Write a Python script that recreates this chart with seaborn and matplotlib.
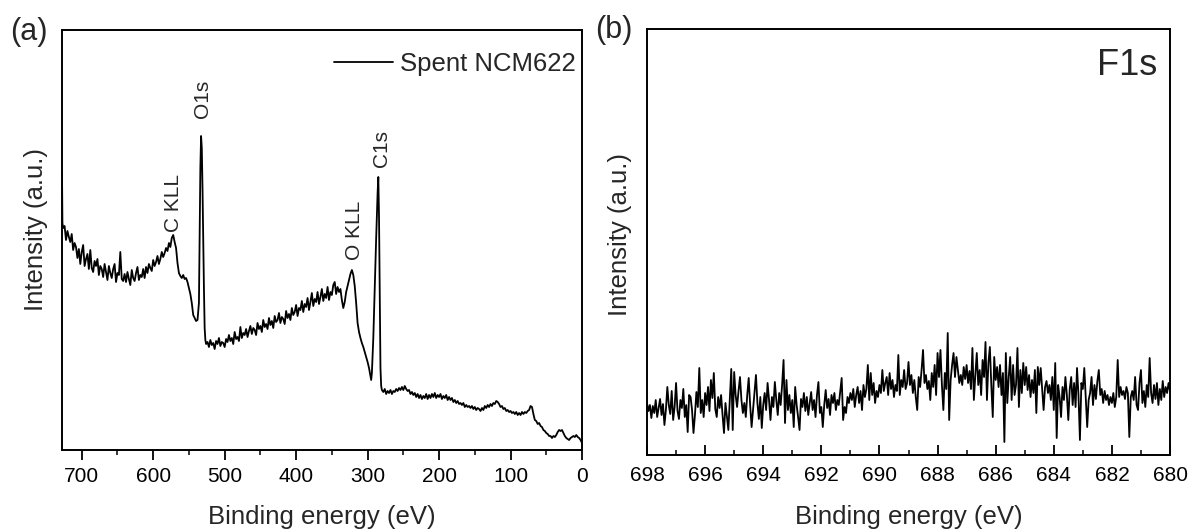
import numpy as np
import pandas as pd
import matplotlib
matplotlib.use("Agg")
import matplotlib.pyplot as plt
from matplotlib.ticker import MultipleLocator
import seaborn as sns

# ---------------- data ----------------
survey_ev = [727.6, 727, 726, 724, 722, 720, 718, 716, 714, 712, 710, 708, 706, 704, 702, 700,
             698, 696, 694, 692, 690, 688, 686, 684, 682, 680, 678, 676, 674, 672, 670, 668,
             666, 664, 662, 660, 658, 656, 654, 652, 650, 648, 646, 644, 642, 640, 638, 636,
             634, 632, 630, 628, 626, 624, 622, 620, 618, 616, 614, 612, 610, 608, 606, 604,
             602, 600, 598, 596, 594, 592, 590, 588, 586, 584, 582, 580, 578, 576, 574, 572,
             570, 568, 566, 564, 562, 560, 558, 556, 554, 552, 550, 548, 546, 544, 542, 540,
             538, 536, 535, 534, 533, 532, 531, 530, 529, 528, 527, 526,
             524, 522, 520, 518, 516, 514, 512, 510, 508, 506, 504, 502, 500, 498, 496, 494,
             492, 490, 488, 486, 484, 482, 480, 478, 476, 474, 472, 470, 468, 466, 464, 462,
             460, 458, 456, 454, 452, 450, 448, 446, 444, 442, 440, 438, 436, 434, 432, 430,
             428, 426, 424, 422, 420, 418, 416, 414, 412, 410, 408, 406, 404, 402, 400, 398,
             396, 394, 392, 390, 388, 386, 384, 382, 380, 378, 376, 374, 372, 370, 368, 366,
             364, 362, 360, 358, 356, 354, 352, 350, 348, 346, 344, 342, 340, 338, 336, 334,
             332, 330, 328, 326, 324, 322, 320, 318, 316, 314, 312, 310, 308, 306, 304, 302,
             300, 298, 296, 295, 294, 292, 290, 288, 286, 285, 284, 283, 282, 281, 280,
             278, 276, 274, 272, 270, 268, 266, 264, 262, 260, 258, 256, 254, 252, 250, 248,
             246, 244, 242, 240, 238, 236, 234, 232, 230, 228, 226, 224, 222, 220, 218, 216,
             214, 212, 210, 208, 206, 204, 202, 200, 198, 196, 194, 192, 190, 188, 186, 184,
             182, 180, 178, 176, 174, 172, 170, 168, 166, 164, 162, 160, 158, 156, 154, 152,
             150, 148, 146, 144, 142, 140, 138, 136, 134, 132, 130, 128, 126, 124, 122, 120,
             118, 116, 114, 112, 110, 108, 106, 104, 102, 100, 98, 96, 94, 92, 90, 88,
             86, 84, 82, 80, 78, 76, 74, 72, 70, 68, 66, 64, 62, 60, 58, 56,
             54, 52, 50, 48, 46, 44, 42, 40, 38, 36, 34, 32, 30, 28, 26, 24,
             22, 20, 18, 16, 14, 12, 10, 8, 6, 4, 2, 0]
survey_int = [305, 255, 250, 252, 238, 247, 241, 236, 244, 228, 235, 231, 220, 229, 214, 226,
              233, 212, 219, 224, 209, 228, 210, 206, 217, 212, 219, 203, 212, 209, 201, 214,
              206, 198, 212, 205, 200, 209, 214, 196, 205, 203, 226, 199, 197, 204, 196, 206,
              199, 193, 208, 200, 197, 205, 211, 198, 203, 201, 209, 200, 211, 205, 214, 210,
              207, 218, 212, 216, 222, 214, 219, 226, 221, 225, 230, 227, 235, 231, 240, 243,
              236, 230, 215, 205, 202, 200, 203, 199, 200, 196, 190, 184, 175, 163, 160, 157,
              158, 175, 240, 310, 342, 330, 290, 240, 190, 150, 138, 134,
              136, 131, 138, 133, 135, 129, 137, 134, 140, 132, 136, 135, 131, 139, 136, 143,
              137, 140, 134, 146, 139, 141, 137, 151, 140, 145, 143, 149, 141, 147, 152, 144,
              150, 148, 143, 155, 149, 152, 146, 158, 151, 154, 149, 160, 153, 157, 150, 162,
              156, 158, 165, 155, 161, 159, 154, 167, 160, 164, 158, 170, 163, 166, 173, 162,
              170, 168, 177, 166, 174, 171, 180, 168, 176, 185, 172, 179, 176, 186, 174, 181,
              189, 177, 184, 180, 191, 178, 186, 183, 193, 196, 184, 191, 186, 189, 178, 170,
              176, 186, 192, 198, 204, 208, 203, 192, 175, 155, 146, 140, 135, 131, 126, 121,
              116, 110, 102, 98, 105, 140, 190, 240, 285, 301, 260, 180, 110, 92, 88,
              86, 89, 84, 87, 85, 88, 84, 87, 86, 89, 87, 90, 88, 91, 88, 92,
              89, 87, 88, 84, 86, 83, 85, 81, 84, 80, 83, 79, 82, 80, 84, 79,
              83, 80, 84, 81, 85, 80, 83, 81, 84, 79, 82, 80, 83, 78, 81, 78,
              80, 76, 78, 75, 77, 74, 75, 73, 75, 71, 73, 71, 72, 70, 72, 69,
              71, 68, 70, 69, 67, 70, 68, 72, 70, 73, 71, 74, 72, 75, 74, 77,
              76, 74, 71, 72, 69, 70, 67, 68, 66, 67, 65, 66, 64, 66, 63, 65,
              63, 66, 64, 66, 65, 67, 68, 72, 71, 64, 58, 57, 54, 55, 52, 51,
              48, 47, 45, 44, 42, 42, 40, 42, 41, 43, 46, 48, 47, 48, 45, 42,
              40, 39, 38, 40, 41, 42, 41, 43, 41, 40, 38, 35]

survey_labels = ["C KLL", "O1s", "O KLL", "C1s"]
survey_label_ev = [572, 531.5, 319, 280]
survey_label_int = [246, 360, 218, 311]

f1s_start, f1s_stop, f1s_step = 698.0, 680.0, 0.05
f1s_int = [
    52, 44, 50, 37, 49, 42, 55, 38, 47, 56, 40, 51, 30, 45, 68, 50, 41, 64, 35, 48,
    72, 44, 36, 55, 47, 66, 38, 50, 23, 60, 58, 45, 22, 40, 63, 48, 87, 42, 55, 38,
    62, 50, 68, 44, 75, 57, 82, 46, 38, 58, 47, 60, 40, 22, 52, 39, 25, 55, 86, 25,
    83, 60, 48, 64, 78, 55, 42, 52, 38, 60, 77, 50, 28, 45, 62, 80, 52, 36, 58, 27,
    50, 62, 45, 72, 55, 35, 58, 48, 73, 55, 40, 62, 50, 70, 95, 32, 75, 45, 60, 42,
    55, 28, 68, 50, 38, 25, 56, 48, 62, 44, 58, 40, 52, 63, 45, 55, 38, 60, 73, 42,
    48, 28, 50, 65, 47, 56, 40, 60, 52, 62, 45, 55, 50, 64, 77, 35, 48, 42, 58, 52,
    62, 55, 66, 48, 60, 68, 52, 64, 45, 70, 58, 66, 90, 55, 82, 60, 72, 52, 64, 58,
    70, 62, 85, 64, 72, 78, 60, 82, 66, 75, 58, 70, 64, 100, 60, 75, 68, 85, 66, 72,
    93, 70, 80, 62, 75, 58, 45, 78, 68, 85, 105, 72, 80, 66, 74, 55, 82, 68, 90, 60,
    102, 78, 105, 70, 45, 82, 66, 122, 35, 75, 90, 102, 78, 98, 85, 72, 80, 70, 88, 76,
    90, 72, 84, 66, 107, 55, 80, 102, 70, 85, 60, 95, 78, 113, 55, 92, 108, 70, 38, 98,
    75, 88, 68, 90, 60, 82, 13, 102, 52, 78, 98, 55, 90, 60, 70, 107, 48, 85, 62, 92,
    70, 88, 65, 80, 58, 75, 62, 85, 42, 88, 70, 87, 66, 45, 68, 74, 62, 70, 55, 78,
    45, 92, 17, 70, 58, 38, 68, 55, 78, 60, 35, 66, 78, 50, 72, 48, 87, 60, 15, 72,
    66, 87, 58, 28, 55, 62, 78, 50, 70, 56, 74, 85, 60, 66, 52, 64, 55, 60, 50, 58,
    52, 62, 48, 58, 95, 58, 68, 60, 64, 56, 68, 62, 18, 58, 64, 55, 78, 50, 45, 72,
    85, 52, 64, 48, 70, 58, 97, 62, 52, 70, 56, 72, 50, 66, 55, 74, 58, 68, 62, 72,
    64]

# ---------------- style ----------------
sns.set_style("ticks")
plt.rcParams["font.family"] = ["Liberation Sans", "DejaVu Sans"]
plt.rcParams["axes.linewidth"] = 1.4

W, H = 1194, 532
fig = plt.figure(figsize=(W / 100, H / 100), dpi=100)

def frac(x0, x1, y0, y1):
    return [x0 / W, 1 - y1 / H, (x1 - x0) / W, (y1 - y0) / H]

ax1 = fig.add_axes(frac(62, 582, 30, 450))
ax2 = fig.add_axes(frac(647, 1170, 29, 455))

# ---------------- panel (a) ----------------
df_a = pd.DataFrame({"ev": survey_ev, "intensity": survey_int})
sns.lineplot(data=df_a, x="ev", y="intensity", ax=ax1, color="black", linewidth=1.3,
             estimator=None, sort=False, label="Spent NCM622")
ax1.set_xlim(727.6, 0)
ax1.set_ylim(28, 448)
ax1.xaxis.set_major_locator(MultipleLocator(100))
ax1.xaxis.set_minor_locator(MultipleLocator(50))
ax1.tick_params(axis="x", which="major", direction="out", length=7, width=1.3,
                labelsize=15, pad=5, colors="black")
ax1.tick_params(axis="x", which="minor", direction="out", length=3.6, width=1.3)
ax1.set_yticks([])
ax1.set_xlabel("Binding energy (eV)", fontsize=18.5, labelpad=14)
ax1.set_ylabel("Intensity (a.u.)", fontsize=18.5, labelpad=10, y=0.525)
for s in ax1.spines.values():
    s.set_visible(True)
    s.set_color("black")
    s.set_linewidth(1.4)
leg = ax1.legend(loc="upper right", bbox_to_anchor=(0.988, 0.948), frameon=False,
                 fontsize=18.5, handlelength=2.3, handletextpad=0.27,
                 borderpad=0, borderaxespad=0)
for lh in leg.get_lines():
    lh.set_linewidth(1.3)
for lab, ex, ey in zip(survey_labels, survey_label_ev, survey_label_int):
    ax1.text(ex, ey, lab, rotation=90, ha="center", va="bottom", fontsize=15)

# ---------------- panel (b) ----------------
f1s_ev = np.round(np.arange(f1s_start, f1s_stop - f1s_step / 2, -f1s_step), 2)
df_b = pd.DataFrame({"ev": f1s_ev, "intensity": f1s_int})
sns.lineplot(data=df_b, x="ev", y="intensity", ax=ax2, color="black", linewidth=1.3,
             estimator=None, sort=False)
ax2.set_xlim(698, 680)
ax2.set_ylim(0, 426)
ax2.xaxis.set_major_locator(MultipleLocator(2))
ax2.xaxis.set_minor_locator(MultipleLocator(1))
ax2.tick_params(axis="x", which="major", direction="in", length=7, width=1.3,
                labelsize=15, pad=8, colors="black")
ax2.tick_params(axis="x", which="minor", direction="in", length=3.6, width=1.3)
ax2.set_yticks([])
ax2.set_xlabel("Binding energy (eV)", fontsize=18.5, labelpad=14)
ax2.set_ylabel("Intensity (a.u.)", fontsize=18.5, labelpad=10.5, y=0.518)
for s in ax2.spines.values():
    s.set_visible(True)
    s.set_color("black")
    s.set_linewidth(1.4)
ax2.text(0.975, 0.915, "F1s", transform=ax2.transAxes, ha="right", va="center", fontsize=26)

fig.text(29 / W, 1 - 32 / H, "(a)", ha="center", va="center", fontsize=22)
fig.text(614 / W, 1 - 30 / H, "(b)", ha="center", va="center", fontsize=22)

fig.savefig("out.png", dpi=100, facecolor="white")
